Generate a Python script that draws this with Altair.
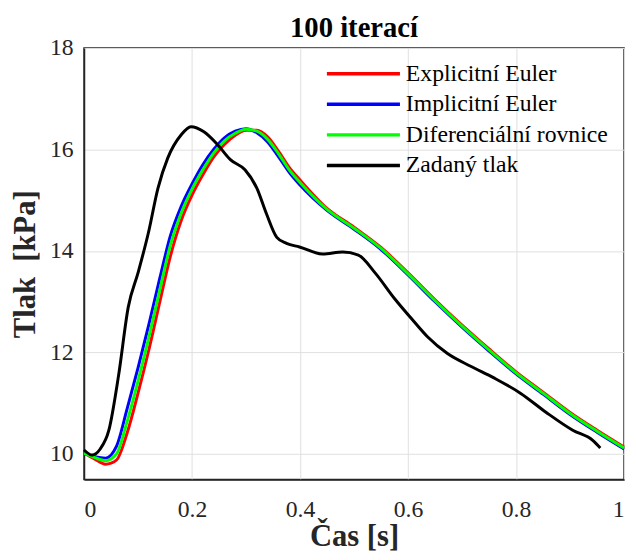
import altair as alt
import pandas as pd

series_names = ["Explicitní Euler", "Implicitní Euler", "Diferenciální rovnice", "Zadaný tlak"]
series_colors = ["#ff0000", "#0000ff", "#00ff00", "#000000"]

t_model = [0, 0.02, 0.04, 0.06, 0.08, 0.1, 0.12, 0.14, 0.16, 0.18, 0.2, 0.22, 0.24, 0.26,
           0.28, 0.3, 0.32, 0.34, 0.36, 0.38, 0.4, 0.45, 0.5, 0.55, 0.6, 0.65, 0.7, 0.75,
           0.8, 0.85, 0.9, 0.95, 1.0]

explicit_euler = [10.02, 9.9, 9.8, 9.88, 10.42, 11.2, 12.05, 12.98, 13.9, 14.6, 15.1, 15.5,
                  15.85, 16.1, 16.28, 16.38, 16.38, 16.25, 15.97, 15.65, 15.4, 14.84, 14.47,
                  14.07, 13.57, 13.04, 12.54, 12.07, 11.62, 11.22, 10.82, 10.47, 10.14]
implicit_euler = [10.02, 9.95, 9.92, 10.15, 10.9, 11.7, 12.55, 13.45, 14.3, 14.88, 15.32, 15.7,
                  16.0, 16.23, 16.36, 16.41, 16.33, 16.15, 15.86, 15.55, 15.3, 14.8, 14.43,
                  14.03, 13.53, 13.0, 12.5, 12.03, 11.58, 11.18, 10.78, 10.43, 10.1]
diff_equation = [10.02, 9.93, 9.87, 10.0, 10.65, 11.44, 12.3, 13.22, 14.12, 14.75, 15.22, 15.6,
                 15.93, 16.17, 16.32, 16.4, 16.36, 16.2, 15.92, 15.6, 15.35, 14.82, 14.45,
                 14.05, 13.55, 13.02, 12.52, 12.05, 11.6, 11.2, 10.8, 10.45, 10.12]

t_given = [0, 0.015, 0.03, 0.046, 0.064, 0.082, 0.1, 0.119, 0.137, 0.155, 0.18, 0.198, 0.222,
           0.247, 0.271, 0.298, 0.32, 0.338, 0.357, 0.375, 0.399, 0.442, 0.479, 0.508, 0.539,
           0.576, 0.607, 0.636, 0.673, 0.716, 0.759, 0.808, 0.856, 0.905, 0.942, 0.956]
given_pressure = [10.08, 9.98, 10.1, 10.47, 11.55, 12.9, 13.57, 14.35, 15.24, 15.83, 16.29,
                  16.45, 16.35, 16.1, 15.8, 15.6, 15.24, 14.73, 14.27, 14.15, 14.08, 13.94,
                  13.98, 13.92, 13.57, 13.05, 12.66, 12.31, 11.98, 11.73, 11.5, 11.2, 10.82,
                  10.47, 10.27, 10.12]

x_ticks = [0, 0.2, 0.4, 0.6, 0.8, 1]
y_ticks = [10, 12, 14, 16, 18]

rows = []
for name, vals in zip(series_names[:3], [explicit_euler, implicit_euler, diff_equation]):
    for i, (t, v) in enumerate(zip(t_model, vals)):
        rows.append({"t": t, "p": v, "s": name, "o": i})
for i, (t, v) in enumerate(zip(t_given, given_pressure)):
    rows.append({"t": t, "p": v, "s": series_names[3], "o": i})
df = pd.DataFrame(rows)

FONT = "Liberation Serif"
AX = dict(labelFont=FONT, labelFontSize=24, labelColor="#262626",
          titleFont=FONT, titleFontSize=31, titleFontWeight="bold", titleColor="#262626",
          gridColor="#e0e0e0", gridWidth=1, domainColor="#262626", domainWidth=1.5,
          ticks=False)

chart = alt.Chart(df).mark_line(strokeWidth=3, interpolate="monotone").encode(
    x=alt.X("t:Q", scale=alt.Scale(domain=[0, 1], nice=False),
            axis=alt.Axis(values=x_ticks, format="~g", title="Čas [s]",
                          labelPadding=19, titleBaseline="alphabetic", titleY=67, **AX)),
    y=alt.Y("p:Q", scale=alt.Scale(domain=[9.5, 18], nice=False, zero=False),
            axis=alt.Axis(values=y_ticks, title="Tlak\u00a0 [kPa]",
                          labelPadding=11, titlePadding=8, **AX)),
    color=alt.Color("s:N", scale=alt.Scale(domain=series_names, range=series_colors),
                    legend=alt.Legend(title=None, orient="none", legendX=271, legendY=14,
                                      symbolType="M-5,0H5", symbolStrokeWidth=3.5,
                                      symbolSize=219, symbolFillColor="transparent",
                                      labelFontSize=24, labelFont=FONT,
                                      labelColor="#000000", rowPadding=7, labelLimit=0,
                                      labelOffset=31, padding=0)),
    order="o:Q",
).properties(
    width=547, height=437,
    title=alt.TitleParams("100 iterací", font=FONT, fontSize=29, fontWeight="bold",
                          color="#000000", offset=8, dy=15, frame="group"),
    autosize=alt.AutoSizeParams(type="none"),
    padding={"left": 77, "top": 37, "right": 4, "bottom": 70},
).configure_view(
    stroke="#262626", strokeWidth=1.5
)

chart.save("out.html", embed_options={"renderer": "svg", "actions": False})
